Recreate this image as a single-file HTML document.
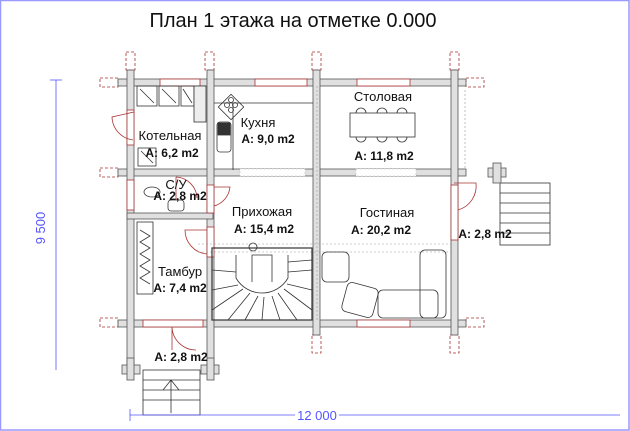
<!DOCTYPE html>
<html><head><meta charset="utf-8"><style>
html,body{margin:0;padding:0;background:#fff;}
svg{display:block;font-family:"Liberation Sans",sans-serif;}
.w{fill:#e0e0e0;stroke:#555;stroke-width:0.8}
.r{fill:none;stroke:#a33;stroke-width:0.8;stroke-dasharray:3 2}
.rs{fill:none;stroke:#a33;stroke-width:0.8}
.l{fill:none;stroke:#333;stroke-width:0.8}
.t{font-size:13px;fill:#111;text-anchor:middle}
.b{font-size:12px;font-weight:bold;fill:#111;text-anchor:middle}
.d{fill:none;stroke:#999;stroke-width:0.6;stroke-dasharray:2 2}
</style></head><body>
<svg width="630" height="431" viewBox="0 0 630 431">
<rect width="630" height="431" fill="#fff"/>
<rect x="0.5" y="0.5" width="628.5" height="429.5" fill="none" stroke="#99f" stroke-width="1.5"/>
<text x="293" y="27" font-size="20" text-anchor="middle" fill="#111">План 1 этажа на отметке 0.000</text>

<g class="r">
<rect x="100" y="78" width="18" height="9"/><rect x="466" y="78" width="18" height="9"/>
<rect x="100" y="168" width="18" height="9"/>
<rect x="100" y="318" width="18" height="9"/><rect x="466" y="318" width="18" height="9"/>
<rect x="126" y="52" width="9" height="18"/><rect x="205" y="52" width="9" height="18"/><rect x="312" y="52" width="9" height="18"/><rect x="450" y="52" width="9" height="18"/>
<rect x="312" y="335" width="9" height="18"/><rect x="450" y="335" width="9" height="18"/>
</g>

<g class="w">
<rect x="118" y="79" width="348" height="7"/>
<rect x="118" y="169" width="348" height="7"/>
<rect x="118" y="320" width="348" height="7"/>
<rect x="127" y="70" width="7" height="300"/>
<rect x="451" y="70" width="7" height="265"/>
<rect x="207" y="70" width="7" height="300"/>
<rect x="313" y="70" width="7" height="265"/>
<rect x="127" y="213" width="86" height="6"/>
</g>
<g>
<rect x="160" y="79" width="40" height="7" fill="#fff" stroke="#a33" stroke-width="0.8"/>
<rect x="255" y="79" width="52" height="7" fill="#fff" stroke="#a33" stroke-width="0.8"/>
<rect x="357" y="79" width="53" height="7" fill="#fff" stroke="#a33" stroke-width="0.8"/>
<rect x="240" y="169" width="65" height="7" fill="#fff" stroke="#bbb" stroke-width="0.6" stroke-dasharray="2 2"/>
<rect x="356" y="169" width="60" height="7" fill="#fff" stroke="#bbb" stroke-width="0.6" stroke-dasharray="2 2"/>
<rect x="143" y="320" width="60" height="7" fill="#fff" stroke="#a33" stroke-width="0.8"/>
<rect x="357" y="320" width="53" height="7" fill="#fff" stroke="#a33" stroke-width="0.8"/>
<rect x="127" y="110" width="7" height="35" fill="#fff" stroke="#a33" stroke-width="0.8"/>
<rect x="207" y="185" width="7" height="28" fill="#fff" stroke="#a33" stroke-width="0.8"/>
<rect x="207" y="227" width="7" height="30" fill="#fff" stroke="#a33" stroke-width="0.8"/>
<rect x="451" y="185" width="7" height="55" fill="#fff" stroke="#a33" stroke-width="0.8"/>
<rect x="127" y="180" width="7" height="30" fill="#fff" stroke="#a33" stroke-width="0.8"/>
</g>
<g class="rs">
<path d="M134 112 L112 117 A24 24 0 0 0 133 140"/>
<path d="M176 177 L176 200 M176 177 A22 22 0 0 1 197 198"/>
<path d="M214 187 L230 187 A22 22 0 0 1 214 206"/>
<path d="M207 230 L185 230 A24 24 0 0 0 207 254"/>
<path d="M454 183 L476 183 A25 25 0 0 1 458 210"/>
<path d="M172 327 L172 350 M172 327 A24 24 0 0 0 196 350"/>
</g>
<line class="d" x1="198" y1="244" x2="451" y2="244"/>
<line class="d" x1="198" y1="252" x2="451" y2="252"/>
<line class="d" x1="317" y1="86" x2="317" y2="320"/>
<line class="d" x1="465" y1="90" x2="465" y2="170"/>

<g class="l">
<rect x="137" y="86" width="20" height="20"/><line x1="140" y1="89" x2="154" y2="103"/>
<rect x="159" y="86" width="20" height="20"/><line x1="162" y1="89" x2="176" y2="103"/>
<rect x="181" y="86" width="13" height="20"/><line x1="183" y1="89" x2="192" y2="103"/>
<rect x="194" y="86" width="12" height="36" fill="#eee"/>
<rect x="138" y="148" width="18" height="18"/><line x1="141" y1="151" x2="153" y2="163"/>
<path d="M214 103 L233 103 M233 103 L313 103 M233 103 L233 170"/>
<rect x="222" y="98" width="18" height="18" transform="rotate(45 231 107)"/>
<circle cx="227" cy="105" r="2.5"/><circle cx="235" cy="105" r="2.5"/><circle cx="231" cy="100" r="2.5"/><circle cx="231" cy="110" r="2.5"/>
<rect x="217" y="122" width="14" height="30" rx="3"/>
<rect x="218" y="123" width="12" height="12" fill="#333"/>
<rect x="350" y="113" width="65" height="24"/>
<path d="M356 113 a5 5 0 1 1 10 0 M377 113 a5 5 0 1 1 10 0 M397 113 a5 5 0 1 1 10 0"/>
<path d="M356 137 a5 5 0 1 0 10 0 M377 137 a5 5 0 1 0 10 0 M397 137 a5 5 0 1 0 10 0"/>
<ellipse cx="152" cy="192" rx="8" ry="5"/>
<rect x="168" y="200" width="16" height="11" rx="3"/>
<rect x="137" y="222" width="16" height="72"/>
<path d="M140 230 L150 236 L140 242 L150 248 L140 254 L150 260 L140 266 L150 272 L140 278 L150 284"/>
<rect x="212" y="248" width="100" height="72" stroke-width="1.2"/>
<path d="M236 255 L236 278 A30 30 0 0 0 288 278 L288 255 M252 282 L252 255 L272 255 L272 282"/>
<path d="M212 270 L236 272 M212 290 L238 285 M212 310 L243 289 M228 320 L250 293 M245 320 L258 296 M262 320 L264 297 M280 320 L272 296 M297 320 L278 293 M312 310 L284 289 M312 290 L287 284 M312 270 L288 272 M312 260 L288 262"/>
<circle cx="253" cy="247" r="4"/>
<rect x="322" y="252" width="27" height="30" rx="5"/>
<rect x="344" y="285" width="32" height="30" rx="5" transform="rotate(15 360 300)"/>
<rect x="378" y="290" width="60" height="28" rx="5"/>
<rect x="420" y="250" width="26" height="68" rx="5"/>
<rect x="500" y="183" width="50" height="62"/>
<path d="M500 193 H550 M500 203 H550 M500 213 H550 M500 223 H550 M500 233 H550 M509 213 L540 213"/>
<circle cx="497" cy="172" r="4"/>
<rect x="488" y="168" width="18" height="9" class="w"/>
<rect x="493" y="163" width="8" height="20" class="w"/>
<rect x="143" y="370" width="57" height="45"/>
<path d="M143 380 H200 M143 390 H200 M143 400 H200 M171 380 L171 413 M163 390 L171 380 L179 390"/>
<rect x="122" y="365" width="18" height="9" class="w"/><rect x="127" y="358" width="7" height="22" class="w"/>
<rect x="201" y="365" width="18" height="9" class="w"/><rect x="207" y="358" width="7" height="22" class="w"/>
</g>

<text class="t" x="170" y="140">Котельная</text>
<text class="b" x="172" y="157">A: 6,2 m2</text>
<text class="t" x="258" y="127">Кухня</text>
<text class="b" x="268" y="143">A: 9,0 m2</text>
<text class="t" x="383" y="101">Столовая</text>
<text class="b" x="384" y="160">A: 11,8 m2</text>
<text class="t" x="176" y="189">С/У</text>
<text class="b" x="180" y="200">A: 2,8 m2</text>
<text class="t" x="262" y="216">Прихожая</text>
<text class="b" x="264" y="233">A: 15,4 m2</text>
<text class="t" x="387" y="217">Гостиная</text>
<text class="b" x="381" y="234">A: 20,2 m2</text>
<text class="t" x="180" y="276">Тамбур</text>
<text class="b" x="180" y="292">A: 7,4 m2</text>
<text class="b" x="181" y="361">A: 2,8 m2</text>
<text class="b" x="485" y="238">A: 2,8 m2</text>

<g stroke="#55f" stroke-width="0.8">
<line x1="130" y1="415" x2="620" y2="415"/>
<line x1="130" y1="409" x2="130" y2="421"/>
<line x1="56" y1="80" x2="56" y2="370"/>
<line x1="50" y1="80" x2="62" y2="80"/>
</g>
<rect x="295" y="406" width="44" height="16" fill="#fff"/>
<text x="317" y="420" font-size="13" fill="#55f" text-anchor="middle">12 000</text>
<text x="45" y="228" font-size="13" fill="#55f" text-anchor="middle" transform="rotate(-90 45 228)">9 500</text>
</svg>
</body></html>
